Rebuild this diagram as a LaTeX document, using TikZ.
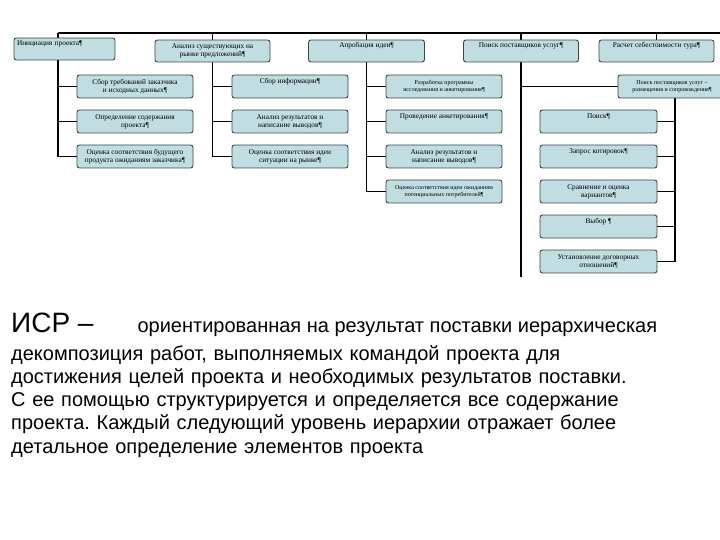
\documentclass[tikz,border=0pt]{standalone}
\usepackage{fontspec}
\setmainfont{Liberation Serif}
\newfontfamily\textsans{Liberation Sans}
\usetikzlibrary{positioning,backgrounds}
\definecolor{boxfill}{RGB}{192,221,226}
\definecolor{boxline}{RGB}{62,70,72}
\frenchspacing

\begin{document}
\begin{tikzpicture}[x=1pt,y=-1pt,
  wbs/.style={draw=boxline,fill=boxfill,rounded corners=2.5pt,line width=0.9pt,
    minimum width=116pt,minimum height=23pt,inner sep=1pt,align=center,
    font=\fontsize{7.3}{8.2}\selectfont},
  oneline/.style={text height=5.5pt,text depth=12pt},
  small/.style={font=\fontsize{6}{7.4}\selectfont},
  bus/.style={line width=1.7pt}]
\useasboundingbox (0,0) rectangle (720,540);

% верхний уровень
\node[wbs,oneline,minimum width=101pt,minimum height=22pt,text width=95pt,align=left] (init) at (64.5,49) {Инициация проекта¶};
\node[wbs,minimum width=115pt,minimum height=22pt] (analiz) at (212.5,51) {Анализ существующих на\\рынке предложений¶};
\node[wbs,oneline,minimum height=22pt] (aprob) at (366.5,51) {Апробация идеи¶};
\node[wbs,oneline,minimum width=115pt,minimum height=22pt] (postav) at (521,51) {Поиск поставщиков услуг¶};
\node[wbs,oneline,minimum width=115pt,minimum height=22pt] (raschet) at (656.5,51) {Расчет себестоимости тура¶};

% инициация
\node[wbs] (c11) at (135,86.5) {Сбор требований заказчика\\и исходных данных¶};
\node[wbs] (c12) at (135,121.5) {Определение содержания\\проекта¶};
\node[wbs] (c13) at (135,156.5) {Оценка соответствия будущего\\продукта ожиданиям заказчика¶};

% анализ рынка
\node[wbs,oneline] (c21) at (290,86.5) {Сбор информации¶};
\node[wbs] (c22) at (290,121.5) {Анализ результатов и\\написание выводов¶};
\node[wbs] (c23) at (290,156.5) {Оценка соответствия идеи\\ситуации на рынке¶};

% апробация
\node[wbs,small] (c31) at (444,86.5) {Разработка программы\\исследования и анкетирования¶};
\node[wbs,oneline] (c32) at (444,121.5) {Проведение анкетирования¶};
\node[wbs] (c33) at (444,156.5) {Анализ результатов и\\написание выводов¶};
\node[wbs,small] (c34) at (444,191.5) {Оценка соответствия идеи ожиданиям\\потенциальных потребителей¶};

% поставщики
\node[wbs,oneline,minimum width=117pt] (c41) at (598.5,121.5) {Поиск¶};
\node[wbs,oneline,minimum width=117pt] (c42) at (598.5,156.5) {Запрос котировок¶};
\node[wbs,minimum width=117pt] (c43) at (598.5,191.5) {Сравнение и оценка\\вариантов¶};
\node[wbs,oneline,minimum width=117pt] (c44) at (598.5,226.5) {Выбор ¶};
\node[wbs,minimum width=117pt] (c45) at (598.5,261.5) {Установление договорных\\отношений¶};
\node[wbs,small,minimum width=108pt] (c51) at (672,86.5) {Поиск поставщиков услуг –\\размещения и сопровождения¶};

\begin{scope}[on background layer]
\coordinate (busL) at (58,33);
\coordinate (busR) at (725,33);
\coordinate (postavEnd) at (521,277);
\coordinate (rightBar) at (675,98);
\draw[bus] (busL) -- (busR);
\draw[bus] (busL) |- (c13.west);
\foreach \n in {c11,c12} {\draw[bus] (\n.west -| busL) -- (\n.west);}
\draw[bus] (analiz.center |- busL) |- (c23.west);
\foreach \n in {c21,c22} {\draw[bus] (\n.west -| analiz.center) -- (\n.west);}
\draw[bus] (aprob.center |- busL) |- (c34.west);
\foreach \n in {c31,c32,c33} {\draw[bus] (\n.west -| aprob.center) -- (\n.west);}
\draw[bus] (postav.center |- busL) -- (postavEnd);
\draw[bus] (c51.west -| postavEnd) -- (c51.west);
\draw[bus] (raschet.center |- busL) -- (raschet.north);
\draw[bus] (rightBar) |- (c45.east);
\foreach \n in {c41,c42,c43,c44} {\draw[bus] (\n.east) -- (\n.east -| rightBar);}
\end{scope}

% определение
\node[anchor=base west,inner sep=0pt,font=\textsans\fontsize{20}{23.3}\selectfont] (isr) at (11,332)
  {{\fontsize{28}{30}\selectfont ИСР –}\hspace{44pt}ориентированная на результат поставки иерархическая};
\node[anchor=base west,inner sep=0pt,text width=705pt,align=left,font=\textsans\fontsize{20}{23.3}\selectfont] (defn) at (11,360)
  {декомпозиция работ, выполняемых командой проекта для\\
   достижения целей проекта и необходимых результатов поставки.\\
   С ее помощью структурируется и определяется все содержание\\
   проекта. Каждый следующий уровень иерархии отражает более\\
   детальное определение элементов проекта};
\end{tikzpicture}
\end{document}
